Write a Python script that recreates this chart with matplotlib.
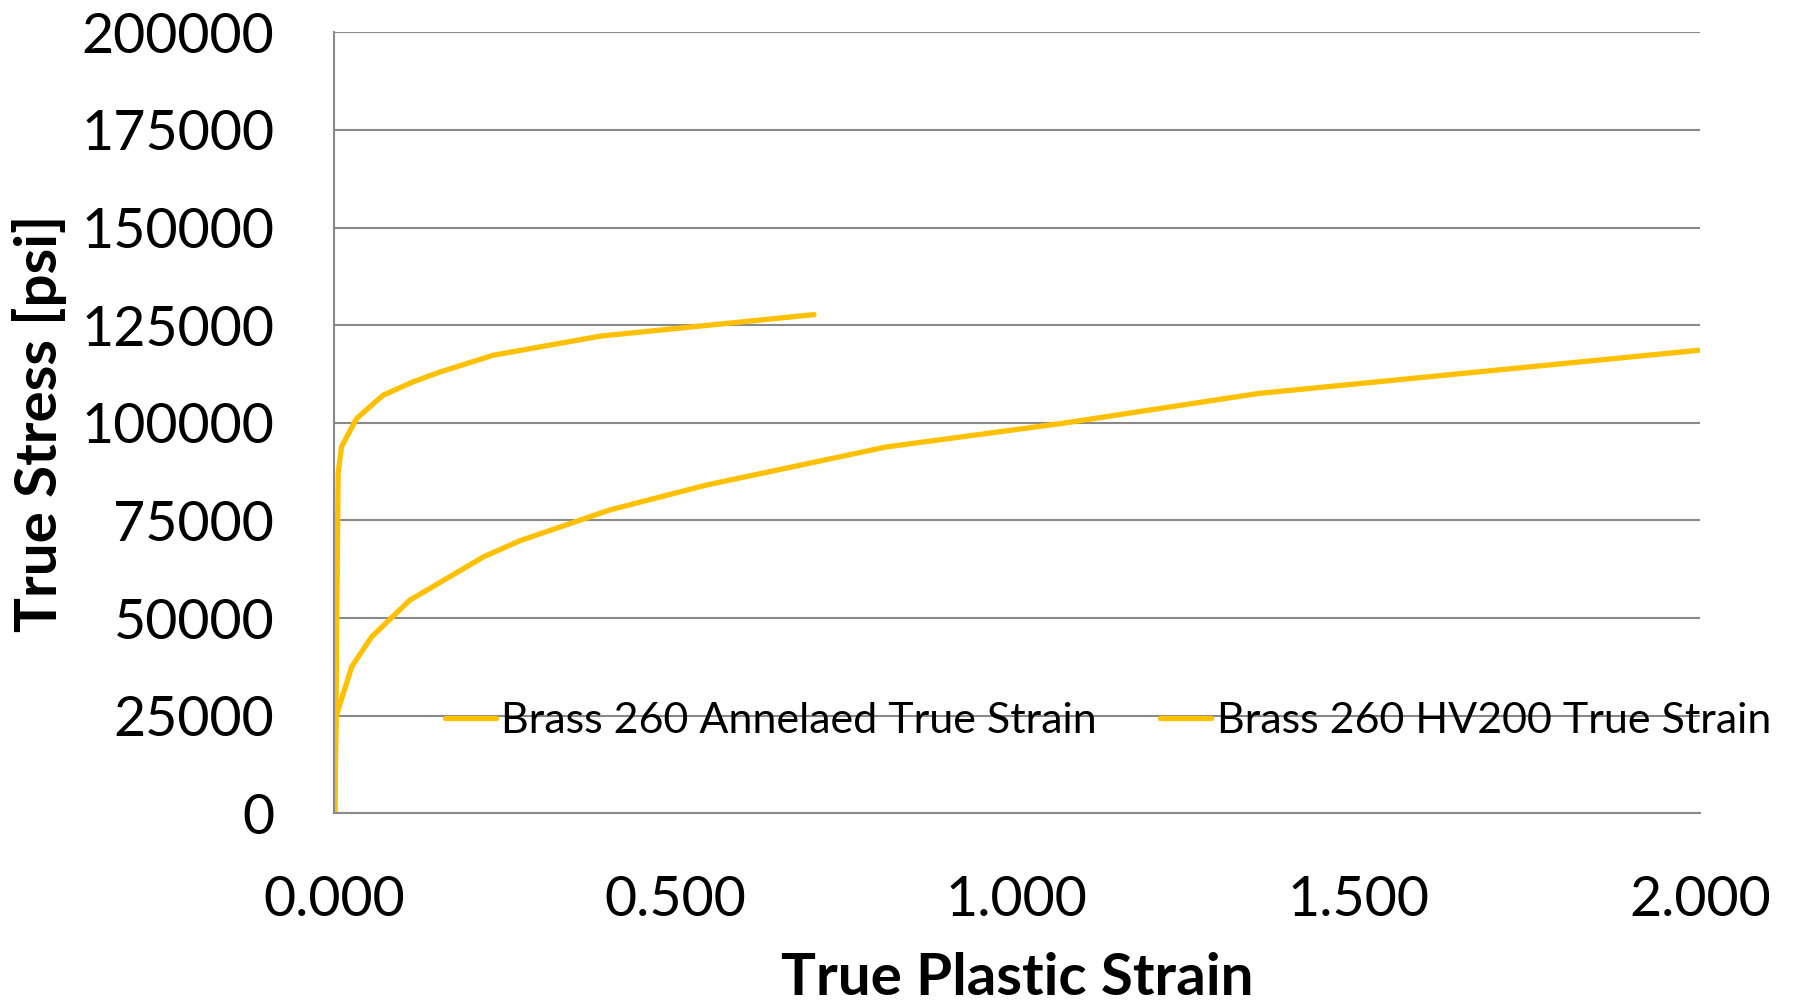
import matplotlib.pyplot as plt

# --datos
annealed_strain = [0.0, 0.001, 0.003, 0.009, 0.026, 0.055, 0.111, 0.219, 0.272, 0.404,
                   0.546, 0.638, 0.808, 1.068, 1.353, 2.0]
annealed_stress = [0, 8000, 24800, 28200, 37600, 45200, 54600, 65700, 69800, 77700,
                   84100, 87500, 93800, 99900, 107500, 118600]
hv200_strain = [0.0015, 0.004, 0.006, 0.011, 0.033, 0.072, 0.116, 0.155, 0.233, 0.390, 0.703]
hv200_stress = [0, 50000, 87100, 93900, 101100, 107100, 110500, 113000, 117300, 122200, 127700]
series_names = ['Brass 260 Annelaed True Strain', 'Brass 260 HV200 True Strain']
x_ticks = [0.0, 0.5, 1.0, 1.5, 2.0]
y_ticks = [0, 25000, 50000, 75000, 100000, 125000, 150000, 175000, 200000]

plt.rcParams['font.family'] = ['Lato', 'DejaVu Sans']
color = '#FFC000'
grid_c = '#898989'

fig = plt.figure(figsize=(17.93, 10.06), dpi=100)
ax = fig.add_axes([0.1863, 0.1914, 0.948 - 0.1863, 0.968 - 0.1914])

ax.plot(annealed_strain, annealed_stress, color=color, lw=3.8, label=series_names[0],
        solid_capstyle='round', solid_joinstyle='round')
ax.plot(hv200_strain, hv200_stress, color=color, lw=3.8, label=series_names[1],
        solid_capstyle='round', solid_joinstyle='round')

ax.set_xlim(0, 2.0)
ax.set_ylim(0, 200000)
ax.set_xticks(x_ticks)
ax.set_xticklabels(['%.3f' % v for v in x_ticks])
ax.set_yticks(y_ticks)
ax.set_yticklabels([str(v) for v in y_ticks])
ax.tick_params(axis='both', length=0, labelsize=40)
ax.tick_params(axis='x', pad=44)
ax.tick_params(axis='y', pad=43)

ax.grid(axis='y', color=grid_c, lw=1.5)
ax.set_axisbelow(True)
for s in ['top', 'right']:
    ax.spines[s].set_visible(False)
for s in ['left', 'bottom']:
    ax.spines[s].set_color(grid_c)
    ax.spines[s].set_linewidth(1.5)

ax.set_xlabel('True Plastic Strain', fontsize=42, fontweight='bold', labelpad=19)
ax.set_ylabel('True Stress [psi]', fontsize=42, fontweight='bold', labelpad=10)

ax.legend(loc='center left', bbox_to_anchor=(0.248, 0.283), bbox_transform=fig.transFigure,
          ncol=2, frameon=False, fontsize=31, handlelength=1.2, handletextpad=0.12,
          columnspacing=1.45, borderpad=0, borderaxespad=0)

fig.savefig('out.png', dpi=100)
